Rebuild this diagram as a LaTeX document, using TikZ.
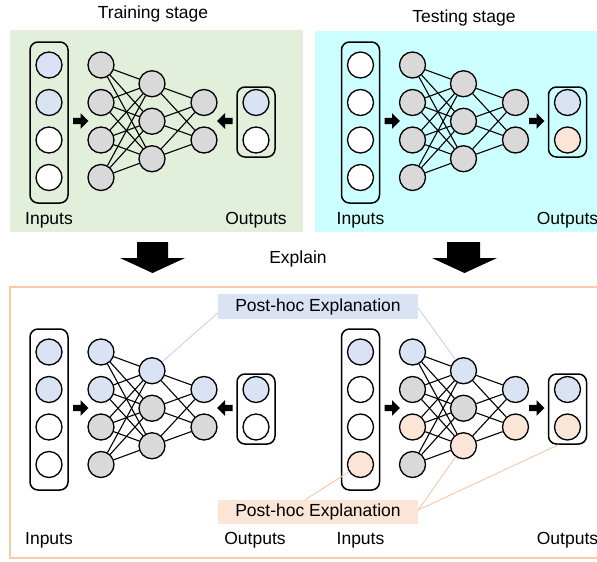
\documentclass[tikz,border=0pt]{standalone}
\usepackage{fontspec}
\setmainfont{Liberation Sans}
\usetikzlibrary{calc}

\definecolor{trainbg}{HTML}{E2EFDA}
\definecolor{testbg}{HTML}{CCFFFF}
\definecolor{nblue}{HTML}{DAE3F3}
\definecolor{npeach}{HTML}{FBE5D6}
\definecolor{ngray}{HTML}{D9D9D9}
\definecolor{framepeach}{HTML}{F8CBAD}
\definecolor{bluelinkc}{HTML}{C9D6EE}

\tikzset{
  neuron/.style={circle, draw=black, line width=1.3pt, minimum size=26pt, inner sep=0pt},
  layerbox/.style={draw=black, line width=1.5pt, rounded corners=8pt, minimum width=38pt, inner sep=0pt},
  link/.style={draw=black, line width=1.1pt},
  lbl/.style={font=\fontsize{17.5}{20}\selectfont, inner sep=0pt},
  expbox/.style={minimum width=200pt, inner sep=0pt, font=\fontsize{17.5}{20}\selectfont},
  bluelink/.style={draw=bluelinkc, line width=1pt},
  peachlink/.style={draw=framepeach, line width=1pt},
  pics/smallarrow/.style={code={
    \fill (-7.5,-3.2)--(0,-3.2)--(0,-7.8)--(8,0)--(0,7.8)--(0,3.2)--(-7.5,3.2)--cycle;}}
}

% One network: prefix, input x, y offset, fills of the five layers, angle of the output arrow
\newcommand\drawnet[9]{%
  \begin{scope}[shift={(#2,#3)}]
    \node[layerbox, minimum height=161pt] (#1-inbox) at (0,122.5) {};
    \node[layerbox, minimum height=70pt] (#1-outbox) at (207,122) {};
    \foreach \c [count=\k] in {#4} \node[neuron, fill=\c] (#1-a\k) at (0,{27.5+37.5*\k}) {};
    \foreach \c [count=\k] in {#5} \node[neuron, fill=\c] (#1-b\k) at (52,{27.5+37.5*\k}) {};
    \foreach \c [count=\k] in {#6} \node[neuron, fill=\c] (#1-c\k) at (103,{46.25+37.5*\k}) {};
    \foreach \c [count=\k] in {#7} \node[neuron, fill=\c] (#1-d\k) at (155,{65+37.5*\k}) {};
    \foreach \c [count=\k] in {#8} \node[neuron, fill=\c] (#1-e\k) at (207,{65+37.5*\k}) {};
    \pic at (31.5,121) {smallarrow};
    \pic[rotate=#9] at (176,121) {smallarrow};
  \end{scope}
  \foreach \i in {1,...,4} \foreach \j in {1,2,3} \draw[link] (#1-b\i) -- (#1-c\j);
  \foreach \i in {1,2,3} \foreach \j in {1,2} \draw[link] (#1-c\i) -- (#1-d\j);
}

\begin{document}
\begin{tikzpicture}[x=1pt, y=-1pt]
  \useasboundingbox (0,0) rectangle (597,562);

  % stage panels
  \fill[trainbg] (10,30) rectangle (303,232);
  \fill[testbg] (315,31) rectangle (597,232);
  \node[lbl, anchor=base] (train) at (153,19) {Training stage};
  \node[lbl, anchor=base] (test) at (464,22) {Testing stage};

  % training network
  \drawnet{T}{49}{0}{nblue,nblue,white,white}{ngray,ngray,ngray,ngray}{ngray,ngray,ngray}{ngray,ngray}{nblue,white}{180}
  \node[lbl, anchor=base] (T-inlbl) at (49,224) {Inputs};
  \node[lbl, anchor=base] (T-outlbl) at (256,224) {Outputs};

  % testing network
  \drawnet{S}{360.5}{0}{white,white,white,white}{ngray,ngray,ngray,ngray}{ngray,ngray,ngray}{ngray,ngray}{nblue,npeach}{0}
  \node[lbl, anchor=base] (S-inlbl) at (360.5,224) {Inputs};
  \node[lbl, anchor=base] (S-outlbl) at (567.5,224) {Outputs};

  % explain arrows
  \fill (120,258)--(137,258)--(137,242)--(168,242)--(168,258)--(185,258)--(152.5,273)--cycle;
  \fill (432,258)--(447,258)--(447,242)--(480,242)--(480,258)--(497,258)--(464.5,273)--cycle;
  \node[lbl, anchor=base] (explain) at (298,263) {Explain};

  % explanation panel
  \draw[framepeach, line width=2pt] (10,287) rectangle (599,558);

  \drawnet{L}{49}{287}{nblue,nblue,white,white}{nblue,nblue,ngray,ngray}{nblue,ngray,ngray}{nblue,ngray}{nblue,white}{180}
  \node[lbl, anchor=base] (L-inlbl) at (49,544) {Inputs};
  \node[lbl, anchor=base] (L-outlbl) at (255,544) {Outputs};

  \drawnet{R}{360.5}{287}{nblue,white,white,npeach}{nblue,ngray,npeach,ngray}{nblue,ngray,npeach}{nblue,npeach}{nblue,npeach}{0}
  \node[lbl, anchor=base] (R-inlbl) at (360.5,544) {Inputs};
  \node[lbl, anchor=base] (R-outlbl) at (567.5,544) {Outputs};

  % post-hoc explanation boxes and their links
  \node[expbox, fill=nblue, minimum height=25pt] (ph1) at (318,306.5) {Post-hoc Explanation};
  \node[expbox, fill=npeach, minimum height=24pt] (ph2) at (318,512) {Post-hoc Explanation};

  \draw[bluelink] (L-c1) -- ([yshift=-6.5pt]ph1.west);
  \draw[bluelink] ([yshift=-1.5pt]ph1.east) -- (R-c1);
  \draw[peachlink] (R-a4) -- ([xshift=-13pt]ph2.north);
  \draw[peachlink] ([yshift=2pt]ph2.east) -- (R-c3);
  \draw[peachlink] ([yshift=2pt]ph2.east) -- ([xshift=-9pt]R-outbox.south);
\end{tikzpicture}
\end{document}
